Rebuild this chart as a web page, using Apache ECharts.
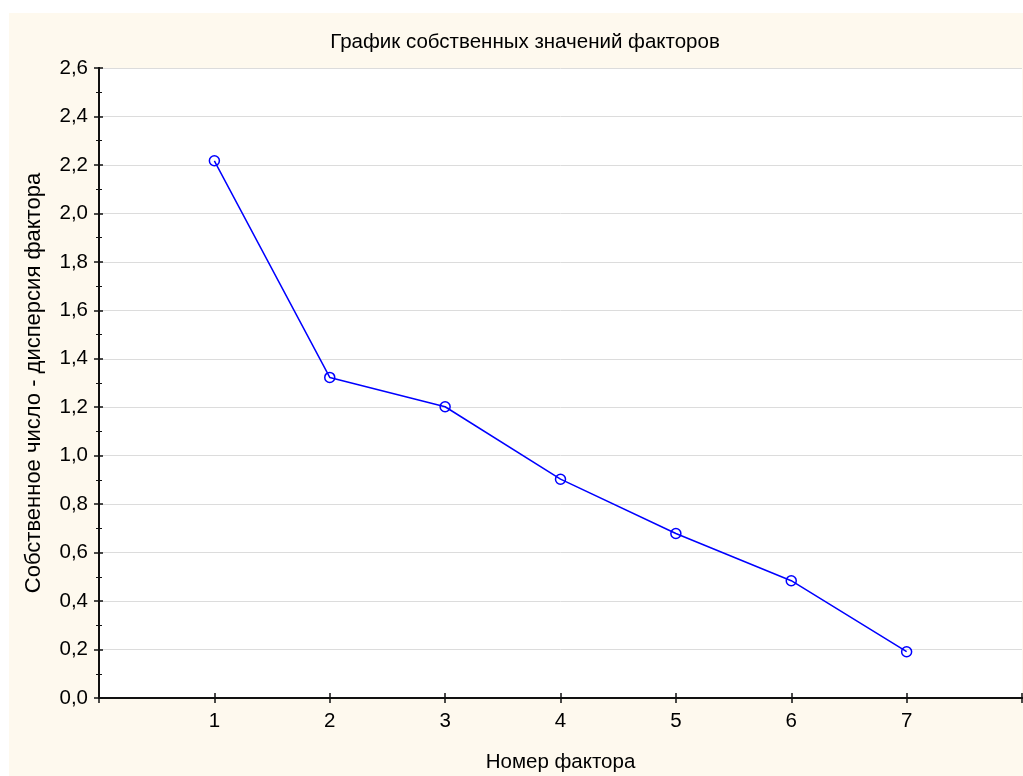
<!DOCTYPE html>
<html lang="ru">
<head>
  <meta charset="UTF-8">
  <title>График собственных значений факторов</title>
  <script src="https://cdn.jsdelivr.net/npm/echarts@6/dist/echarts.min.js"></script>
  <style>
    html, body { margin: 0; padding: 0; background: #ffffff; overflow: hidden; }
    #main { width: 1023px; height: 776px; }
  </style>
</head>
<body>
<div id="main"></div>
<script>
  // номера факторов и собственные значения
  var factorNums = [1, 2, 3, 4, 5, 6, 7];
  var eigenValues = [2.217, 1.323, 1.202, 0.903, 0.679, 0.484, 0.191];

  var titleText = 'График собственных значений факторов';
  var xName = 'Номер фактора';
  var yName = 'Собственное число - дисперсия фактора';

  var fontName = '"Liberation Sans", Arial, sans-serif';
  var fs = 20.5;

  var points = factorNums.map(function (n, i) { return [n, eigenValues[i]]; });

  function yFmt(v) { return v.toFixed(1).replace('.', ','); }

  var chart = echarts.init(document.getElementById('main'), null, { renderer: 'canvas' });
  var option = {
    backgroundColor: '#ffffff',
    animation: false,
    textStyle: { fontFamily: fontName },
    graphic: [
      { type: 'rect', z: -10, shape: { x: 9, y: 13, width: 1014, height: 763 }, style: { fill: '#fef9ee' } },
      { type: 'text', x: 525, y: 42, style: { text: titleText, fill: '#000', font: fs + 'px ' + fontName, textAlign: 'center', textVerticalAlign: 'middle' } }
    ],
    grid: {
      left: 99, right: 1, top: 68, bottom: 78,
      outerBoundsMode: 'none',
      show: true, backgroundColor: '#ffffff', borderWidth: 0
    },
    xAxis: [{
      type: 'value', min: 0, max: 8, interval: 1,
      name: xName, nameLocation: 'middle', nameGap: 54,
      nameTextStyle: { fontSize: fs, color: '#000', fontFamily: fontName },
      axisLine: { lineStyle: { color: '#111', width: 2 } },
      axisTick: { inside: true, length: 5, lineStyle: { color: '#111', width: 1.5 } },
      axisLabel: {
        fontSize: fs, color: '#000', margin: 13,
        formatter: function (v) { return (v >= 1 && v <= 7) ? String(v) : ''; }
      },
      splitLine: { show: false }
    }, {
      type: 'value', min: 0, max: 8, interval: 1, position: 'top',
      axisLine: { show: true, lineStyle: { color: '#111', width: 2 } },
      axisTick: { inside: true, length: 5, lineStyle: { color: '#111', width: 1.5 } },
      axisLabel: { show: false },
      splitLine: { show: false }
    }],
    yAxis: [{
      type: 'value', min: 0, max: 2.6, interval: 0.2,
      name: yName, nameLocation: 'middle', nameGap: 54, nameRotate: 90,
      nameTextStyle: { fontSize: 22, color: '#000', fontFamily: fontName },
      axisLine: { show: true, lineStyle: { color: '#111', width: 2 } },
      axisTick: { show: true, inside: true, length: 4, lineStyle: { color: '#111', width: 1.5 } },
      minorTick: { show: true, splitNumber: 2, length: 3, lineStyle: { color: '#111', width: 1 } },
      axisLabel: { fontSize: fs, color: '#000', margin: 11, formatter: yFmt },
      splitLine: { show: true, lineStyle: { color: '#dcdcdc', width: 1 } }
    }, {
      type: 'value', min: 0, max: 2.6, interval: 0.2, position: 'right',
      axisLine: { show: true, lineStyle: { color: '#111', width: 2 } },
      axisTick: { show: true, inside: true, length: 5, lineStyle: { color: '#111', width: 1.5 } },
      minorTick: { show: true, splitNumber: 2, length: 3, lineStyle: { color: '#111', width: 1 } },
      axisLabel: { show: false },
      splitLine: { show: false }
    }],
    series: [{
      type: 'line',
      data: points,
      symbol: 'circle',
      symbolSize: 10,
      itemStyle: { color: 'rgba(0,0,0,0)', borderColor: '#0000ff', borderWidth: 1.5 },
      lineStyle: { color: '#0000ff', width: 1.5 },
      z: 5
    }]
  };
  chart.setOption(option);
</script>
</body>
</html>
